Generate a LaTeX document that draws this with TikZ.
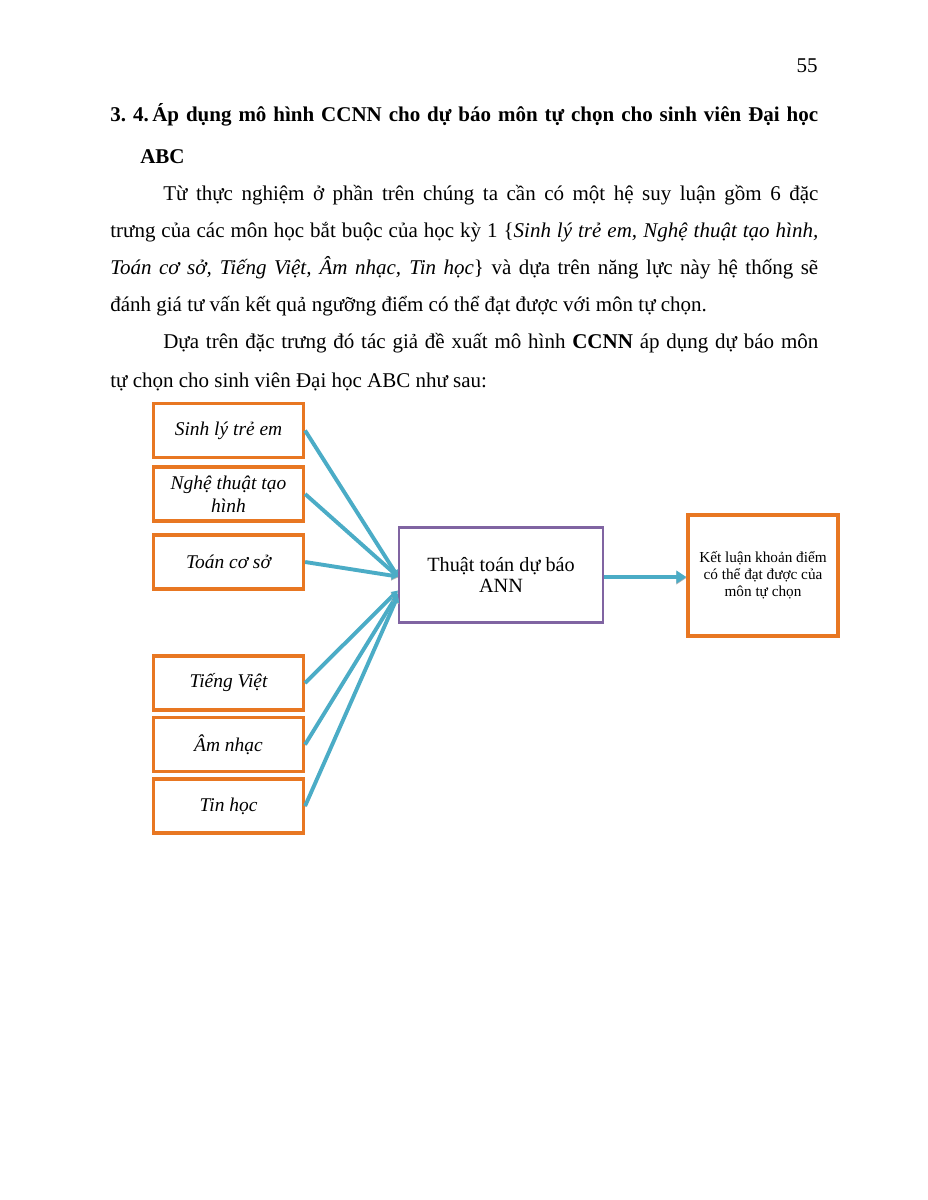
\documentclass[tikz,border=0pt]{standalone}
\usepackage{fontspec}
\setmainfont{Liberation Serif}
\usetikzlibrary{positioning, arrows.meta}
\definecolor{cInput}{HTML}{E87722}
\definecolor{cAnn}{HTML}{8064A2}
\definecolor{cLink}{HTML}{4BACC6}
\tikzset{
  inbox/.style={
    draw=cInput, line width=2pt,
    fill=white,
    inner sep=2pt,
    align=center,
    minimum width=96.5pt,
    minimum height=34.7pt,
    font=\fontsize{12.5}{14.5}\selectfont\itshape
  },
  annbox/.style={
    draw=cAnn, line width=1.6pt,
    align=center,
    minimum width=131pt,
    minimum height=61pt,
    font=\fontsize{13}{14}\selectfont
  },
  outbox/.style={
    inbox,
    minimum height=77.8pt,
    font=\fontsize{9.8}{10.8}\selectfont
  },
  link/.style={
    -{Triangle[length=4pt,width=5pt]},
    line width=2.5pt,
    draw=cLink,
    preaction={draw=black!30, transform canvas={yshift=-0.6pt}}
  },
  mainlink/.style={
    link,
    -{Triangle[length=6.5pt,width=8pt]}
  },
  txtline/.style={
    anchor=base west,
    inner sep=0pt,
    font=\fontsize{13.5}{16}\selectfont
  }
}

\begin{document}
\begin{tikzpicture}[x=0.643pt, y=-0.643pt]
  \useasboundingbox[fill=white] (0,0) rectangle (927,1200);

  % page text
  \node[txtline, anchor=base east] (pagenum) at (818,73) {55};
  \node[txtline] (head1) at (110,122) {\bfseries\makebox[455.2pt][s]{\mbox{3. 4.\,Áp} dụng mô hình CCNN cho dự báo môn tự chọn cho sinh viên Đại học}};
  \node[txtline] (head2) at (140,164) {\bfseries ABC};
  \node[txtline] (par1) at (163,201) {\makebox[421.2pt][s]{Từ thực nghiệm ở phần trên chúng ta cần có một hệ suy luận gồm 6 đặc}};
  \node[txtline] (par2) at (110,238) {\makebox[455.2pt][s]{trưng của các môn học bắt buộc của học kỳ 1 \{\textit{Sinh lý trẻ em, Nghệ thuật tạo hình,}}};
  \node[txtline] (par3) at (110,275) {\makebox[455.2pt][s]{\textit{Toán cơ sở, Tiếng Việt, Âm nhạc, Tin học}\} và dựa trên năng lực này hệ thống sẽ}};
  \node[txtline] (par4) at (110,312) {đánh giá tư vấn kết quả ngưỡng điểm có thể đạt được với môn tự chọn.};
  \node[txtline] (par5) at (163,349) {\makebox[421.2pt][s]{Dựa trên đặc trưng đó tác giả đề xuất mô hình \textbf{CCNN} áp dụng dự báo môn}};
  \node[txtline] (par6) at (110,387) {tự chọn cho sinh viên Đại học ABC như sau:};

  % diagram
  \node[inbox] (sinhly) at (228.5,430.5) {Sinh lý trẻ em};
  \node[inbox] (nghethuat) at (228.5,494) {Nghệ thuật tạo\\hình};
  \node[inbox] (toan) at (228.5,562) {Toán cơ sở};
  \node[inbox] (tiengviet) at (228.5,683) {Tiếng Việt};
  \node[inbox] (amnhac) at (228.5,744.5) {Âm nhạc};
  \node[inbox] (tinhoc) at (228.5,806) {Tin học};

  \node[annbox] (ann) at (501,575) {Thuật toán dự báo\\ANN};
  \node[outbox] (ketluan) at (763,575.5) {Kết luận khoản điểm\\có thể đạt được của\\môn tự chọn};

  \draw[link] (sinhly.east) -- ([yshift=-1pt]ann.west);
  \draw[link] (nghethuat.east) -- ([yshift=-1pt]ann.west);
  \draw[link] (toan.east) -- ([yshift=-1pt]ann.west);
  \draw[link] (tiengviet.east) -- ([yshift=-10pt]ann.west);
  \draw[link] (amnhac.east) -- ([yshift=-12pt]ann.west);
  \draw[link] (tinhoc.east) -- ([yshift=-13.5pt]ann.west);

  \draw[mainlink] ([yshift=-1.3pt]ann.east) -- ([yshift=-1.3pt]ann.east -| ketluan.west);
\end{tikzpicture}
\end{document}
